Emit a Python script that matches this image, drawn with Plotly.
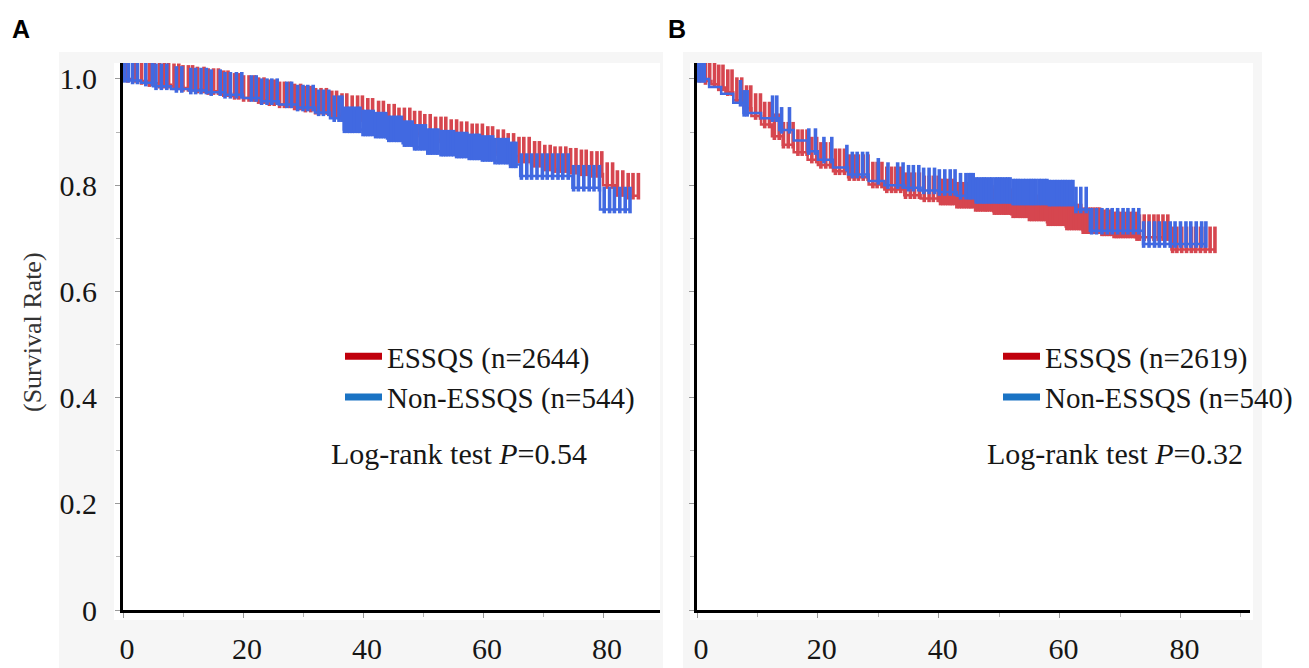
import numpy as np
import plotly.graph_objects as go

# ---------------- data ----------------
X_TICKS = [0, 20, 40, 60, 80]
Y_TICKS = [0, 0.2, 0.4, 0.6, 0.8, 1.0]
Y_TICK_TEXT = ["0", "0.2", "0.4", "0.6", "0.8", "1.0"]

# Panel A  -- ESSQS (red) step curve
a_red_t = [0, 2, 4, 6, 8, 10, 12, 14, 16, 18, 20, 22, 24, 26, 28, 30, 32, 34, 36, 38, 40,
           42, 44, 46, 48, 50, 52, 54, 56, 58, 60, 62, 64, 66, 68, 70, 72, 74, 76, 78, 80,
           82, 84, 85.9]
a_red_s = [1.0, 0.996, 0.992, 0.989, 0.986, 0.983, 0.98, 0.977, 0.973, 0.968, 0.964, 0.96,
           0.956, 0.952, 0.948, 0.944, 0.94, 0.935, 0.93, 0.926, 0.921, 0.916, 0.91, 0.903,
           0.897, 0.891, 0.886, 0.881, 0.877, 0.873, 0.868, 0.862, 0.855, 0.848, 0.84, 0.833,
           0.83, 0.827, 0.824, 0.821, 0.80, 0.785, 0.78, 0.78]
a_red_cens = [0.8, 1.9, 3.1, 4.4, 5.2, 6.1, 6.9, 7.6, 8.5, 9.3, 10.0, 10.9, 11.6, 12.4, 13.5,
              14.2, 15.1, 15.9, 16.8, 17.5, 18.6, 19.3, 20.1, 21.0, 21.9, 22.6, 23.5, 24.4,
              25.2, 26.1, 26.9, 27.8, 28.6, 29.6, 30.4, 31.3, 32.1, 33.0, 33.9, 34.8, 35.6,
              36.5, 37.3, 38.2, 39.1, 39.9, 40.8, 41.6, 42.6, 43.4, 44.3, 45.2, 46.0, 46.9,
              47.8, 48.6, 49.5, 50.3, 51.2, 52.1, 53.0, 53.8, 54.7, 55.6, 56.4, 57.3, 58.2,
              59.0, 59.9, 60.8, 61.6, 62.5, 63.4, 64.2, 65.1, 66.0, 66.8, 67.7, 68.6, 69.4,
              70.3, 71.2, 72.0, 72.9, 73.8, 74.6, 75.5, 76.4, 77.2, 78.1, 79.0, 79.8, 80.7,
              81.6, 82.4, 83.3, 84.2, 85.0, 85.9]

# Panel A  -- Non-ESSQS (blue) step curve
a_blue_t = [0, 1, 3, 5, 8, 11, 14, 17, 20, 23, 26, 29, 32, 34.5, 36.8, 40, 42, 44, 46.6,
            48.5, 50.7, 53, 55.3, 57.5, 59.9, 62, 64.5, 66.2, 74.9, 79.5, 84.6]
a_blue_s = [1.0, 0.997, 0.993, 0.986, 0.981, 0.978, 0.975, 0.97, 0.964, 0.958, 0.952, 0.946,
            0.937, 0.926, 0.905, 0.899, 0.895, 0.888, 0.879, 0.872, 0.864, 0.861, 0.8575,
            0.854, 0.851, 0.846, 0.839, 0.817, 0.795, 0.754, 0.754]
a_blue_cens = [0.3, 0.9, 1.6, 2.4, 3.8, 4.9, 5.5, 6.4, 7.3, 8.9, 9.8, 11.3, 12.1, 13.0, 13.9,
               14.7, 16.2, 17.0, 17.9, 18.9, 19.8, 21.4, 22.2, 23.1, 24.0, 24.8, 25.7, 27.3,
               28.1, 29.1, 30.0, 30.8, 31.7, 32.6, 33.4, 34.3, 35.2, 36.0, 36.5, 36.9, 37.4,
               37.8, 38.2, 38.6, 39.1, 39.5, 40.0, 40.4, 40.8, 41.2, 41.7, 42.1, 42.6, 43.0,
               43.4, 43.8, 44.3, 44.7, 45.2, 45.6, 46.0, 46.4, 46.9, 47.3, 47.8, 48.2, 48.6,
               49.0, 49.5, 49.9, 50.4, 50.8, 51.2, 51.6, 52.1, 52.5, 53.0, 53.4, 53.8, 54.2,
               54.7, 55.1, 55.6, 56.0, 56.4, 56.8, 57.3, 57.7, 58.2, 58.6, 59.0, 59.4, 59.9,
               60.3, 60.8, 61.2, 61.6, 62.0, 62.5, 62.9, 63.4, 63.8, 64.2, 64.6, 65.1, 65.5,
               66.4, 67.3, 68.1, 69.0, 69.9, 70.7, 71.6, 72.5, 73.3, 74.2, 75.1, 75.9, 76.8,
               77.7, 78.5, 79.4, 80.2, 81.1, 81.9, 82.8, 83.7, 84.5]

# Panel B  -- ESSQS (red) step curve
b_red_t = [0, 1, 2.4, 3.5, 4.7, 6, 7.7, 9, 10.6, 12.4, 14.2, 16, 18.3, 20, 22.5, 25, 28.4,
           31, 34.3, 37, 40.2, 43, 46.1, 49, 52, 55, 57.9, 61, 63.8, 66.7, 69, 72.6, 78.5,
           85.7]
b_red_s = [1.0, 0.996, 0.99, 0.984, 0.975, 0.96, 0.945, 0.93, 0.914, 0.892, 0.876, 0.862,
           0.848, 0.838, 0.826, 0.815, 0.801, 0.792, 0.781, 0.775, 0.769, 0.763, 0.757, 0.751,
           0.745, 0.739, 0.73, 0.722, 0.715, 0.711, 0.707, 0.702, 0.679, 0.679]
b_red_cens = [0.5, 1.4, 2.1, 2.9, 3.6, 4.3, 5.1, 5.8, 6.6, 7.4, 8.2, 8.9, 9.7, 10.5, 11.2,
              12.0, 12.8, 13.6, 14.3, 15.1, 15.9, 16.7, 17.4, 18.2, 19.0, 19.8, 20.5, 21.3,
              22.1, 22.9, 23.6, 24.4, 25.2, 26.0, 26.7, 27.5, 28.3, 29.1, 29.8, 30.6, 31.4,
              32.2, 32.9, 33.7, 34.5, 35.3, 36.0, 36.8, 37.6, 38.4, 39.1, 39.9, 40.3, 40.7,
              41.1, 41.5, 41.9, 42.2, 42.6, 43.0, 43.4, 43.8, 44.2, 44.6, 45.0, 45.3, 45.7,
              46.1, 46.5, 46.9, 47.3, 47.7, 48.0, 48.4, 48.8, 49.2, 49.6, 50.0, 50.4, 50.8,
              51.1, 51.5, 51.9, 52.3, 52.7, 53.1, 53.5, 53.9, 54.2, 54.6, 55.0, 55.4, 55.8,
              56.2, 56.6, 57.0, 57.3, 57.7, 58.1, 58.5, 58.9, 59.3, 59.7, 60.1, 60.4, 60.8,
              61.2, 61.6, 62.0, 62.4, 62.8, 63.2, 63.5, 63.9, 64.3, 64.7, 65.1, 65.5, 65.9,
              66.3, 66.6, 67.0, 67.4, 67.8, 68.2, 68.6, 69.0, 69.4, 69.7, 70.1, 70.5, 70.9,
              71.3, 71.7, 72.1, 72.5, 72.8, 73.2, 74.0, 74.8, 75.6, 76.3, 77.1, 77.9, 78.7,
              79.4, 80.2, 81.0, 81.8, 82.5, 83.3, 84.1, 84.9, 85.7]

# Panel B  -- Non-ESSQS (blue) step curve
b_blue_t = [0, 2, 4, 6, 7.7, 10.6, 13.6, 16, 18.3, 20, 22.5, 25, 28.4, 31, 34.3, 37, 40,
            43, 46.1, 52, 58, 62.6, 65, 73.8, 84.2]
b_blue_s = [1.0, 0.985, 0.972, 0.955, 0.936, 0.926, 0.904, 0.884, 0.864, 0.848, 0.833, 0.82,
            0.808, 0.8, 0.795, 0.79, 0.787, 0.78, 0.772, 0.769, 0.767, 0.754, 0.714, 0.689,
            0.689]
b_blue_cens = [0.3, 0.8, 1.2, 7.2, 7.8, 8.3, 12.5, 13.2, 14.0, 15.3, 18.5, 19.6, 21.0, 22.3,
               24.8, 25.7, 26.5, 27.4, 28.2, 30.0, 31.6, 33.2, 34.1, 35.0, 35.8, 36.7, 37.5,
               38.4, 39.3, 40.1, 41.0, 41.9, 42.7, 43.6, 44.5, 45.0, 45.3, 45.7, 46.2, 46.6,
               47.1, 47.5, 47.9, 48.4, 48.8, 49.3, 49.7, 50.1, 50.5, 51.0, 51.4, 51.8, 52.3,
               52.7, 53.1, 53.5, 54.0, 54.4, 54.9, 55.3, 55.7, 56.1, 56.6, 57.0, 57.5, 57.9,
               58.3, 58.7, 59.2, 59.6, 60.1, 60.5, 60.9, 61.3, 61.8, 62.2, 62.7, 63.5, 64.4,
               65.3, 66.1, 67.0, 67.9, 68.7, 69.6, 70.5, 71.3, 72.2, 73.1, 73.9, 74.8, 75.7,
               76.5, 77.4, 78.3, 79.1, 80.0, 80.9, 81.7, 82.6, 83.5, 84.2]

LEGEND_A = ["ESSQS (n=2644)", "Non-ESSQS (n=544)"]
LEGEND_B = ["ESSQS (n=2619)", "Non-ESSQS (n=540)"]
PVAL_A = "0.54"
PVAL_B = "0.32"

# ---------------- styling ----------------
W, H = 1309, 668
RED = "#d6464f"
BLUE = "#4169e1"
RED_LEG = "#c0000c"
BLUE_LEG = "#1a73c4"
SERIF = "Liberation Serif, Times New Roman, serif"
SANS = "Liberation Sans, Arial, sans-serif"
TXT = "#161616"
TICK_H = 0.036          # censor tick height (data units)
X_MAX_A = 89.5
X_MAX_B = 91.5
Y_MAX = 1.03


def px(x):
    return x / W


def py(y):
    return (H - y) / H


def step_at(times, surv, t):
    idx = np.searchsorted(np.asarray(times), np.asarray(t), side="right") - 1
    return np.asarray(surv)[np.clip(idx, 0, len(surv) - 1)]


fig = go.Figure()


def add_curve(times, surv, cens, color, xa, ya):
    fig.add_trace(go.Scatter(x=times, y=surv, mode="lines", line=dict(color=color, width=2.5, shape="hv"),
                             xaxis=xa, yaxis=ya, showlegend=False, hoverinfo="skip"))
    cy = step_at(times, surv, cens) + TICK_H / 2
    fig.add_trace(go.Scatter(x=cens, y=cy, mode="markers",
                             marker=dict(symbol="line-ns", size=19, line=dict(color=color, width=3.6)),
                             xaxis=xa, yaxis=ya, showlegend=False, hoverinfo="skip"))


add_curve(a_red_t, a_red_s, a_red_cens, RED, "x", "y")
add_curve(a_blue_t, a_blue_s, a_blue_cens, BLUE, "x", "y")
add_curve(b_red_t, b_red_s, b_red_cens, RED, "x2", "y2")
add_curve(b_blue_t, b_blue_s, b_blue_cens, BLUE, "x2", "y2")

# legend entries
for i, (name, col, leg) in enumerate([(LEGEND_A[0], RED_LEG, "legend"), (LEGEND_A[1], BLUE_LEG, "legend"),
                                      (LEGEND_B[0], RED_LEG, "legend2"), (LEGEND_B[1], BLUE_LEG, "legend2")]):
    fig.add_trace(go.Scatter(x=[None], y=[None], mode="lines", name=name,
                             line=dict(color=col, width=7), legend=leg, legendgroup="g%d" % i,
                             xaxis="x" if leg == "legend" else "x2",
                             yaxis="y" if leg == "legend" else "y2"))

axis_common = dict(showline=True, linecolor="black", linewidth=3, ticks="outside", ticklen=5,
                   tickcolor="#9a9a9a", tickwidth=1, showgrid=False, zeroline=False,
                   automargin=False, tickfont=dict(family=SERIF, size=30, color=TXT))
x_minor = dict(dtick=10, ticks="outside", ticklen=4, tickcolor="#b5b5b5")
y_minor = dict(dtick=0.1, ticks="outside", ticklen=4, tickcolor="#b5b5b5")

leg_common = dict(xanchor="left", yanchor="top", bgcolor="rgba(0,0,0,0)",
                  font=dict(family=SERIF, size=29, color=TXT), itemwidth=37, tracegroupgap=0)

fig.update_layout(
    width=W, height=H, template="none",
    margin=dict(l=0, r=0, t=0, b=0),
    paper_bgcolor="white", plot_bgcolor="white",
    xaxis=dict(domain=[px(123), px(660)], range=[0, X_MAX_A], tickvals=X_TICKS, minor=x_minor,
               ticklabelstandoff=5, ticklabelshift=4, anchor="y", **axis_common),
    yaxis=dict(domain=[py(610), py(63)], range=[0, Y_MAX], tickvals=Y_TICKS, ticktext=Y_TICK_TEXT,
               minor=y_minor, ticklabelstandoff=12, anchor="x", **axis_common),
    xaxis2=dict(domain=[px(697), px(1250)], range=[0, X_MAX_B], tickvals=X_TICKS, minor=x_minor,
                ticklabelstandoff=5, ticklabelshift=4, anchor="y2", **axis_common),
    yaxis2=dict(domain=[py(610), py(63)], range=[0, Y_MAX], tickvals=Y_TICKS, showticklabels=False,
                minor=y_minor, anchor="x2", **axis_common),
    legend=dict(x=px(340), y=py(331), **leg_common),
    legend2=dict(x=px(998), y=py(331), **leg_common),
    showlegend=True,
)

# faint grey framing behind the panels (as in the scanned reference)
fig.add_shape(type="rect", xref="paper", yref="paper", x0=px(59), x1=px(663), y0=0, y1=py(52),
              fillcolor="#f6f6f6", line=dict(width=0), layer="below")
fig.add_shape(type="rect", xref="paper", yref="paper", x0=px(114), x1=px(660), y0=py(620), y1=py(63),
              fillcolor="white", line=dict(width=0), layer="below")
fig.add_shape(type="rect", xref="paper", yref="paper", x0=px(683), x1=px(1262), y0=0, y1=py(52),
              fillcolor="#f6f6f6", line=dict(width=0), layer="below")
fig.add_shape(type="rect", xref="paper", yref="paper", x0=px(690), x1=px(1253), y0=py(620), y1=py(63),
              fillcolor="white", line=dict(width=0), layer="below")

annos = [
    dict(text="<b>A</b>", x=px(21), y=py(29), font=dict(family=SANS, size=25, color="black")),
    dict(text="<b>B</b>", x=px(677), y=py(29), font=dict(family=SANS, size=25, color="black")),
    dict(text="(Survival Rate)", x=px(32), y=py(332), textangle=-90,
         font=dict(family=SERIF, size=26, color="#333")),
    dict(text="Log-rank test <i>P</i>=" + PVAL_A, x=px(459), y=py(453),
         font=dict(family=SERIF, size=30, color=TXT)),
    dict(text="Log-rank test <i>P</i>=" + PVAL_B, x=px(1115), y=py(453),
         font=dict(family=SERIF, size=30, color=TXT)),
]
for a in annos:
    fig.add_annotation(xref="paper", yref="paper", showarrow=False, xanchor="center", yanchor="middle", **a)

fig.write_html("out.html", config={"displayModeBar": False},
               post_script="document.body.style.margin='0px';document.body.style.overflow='hidden';")
